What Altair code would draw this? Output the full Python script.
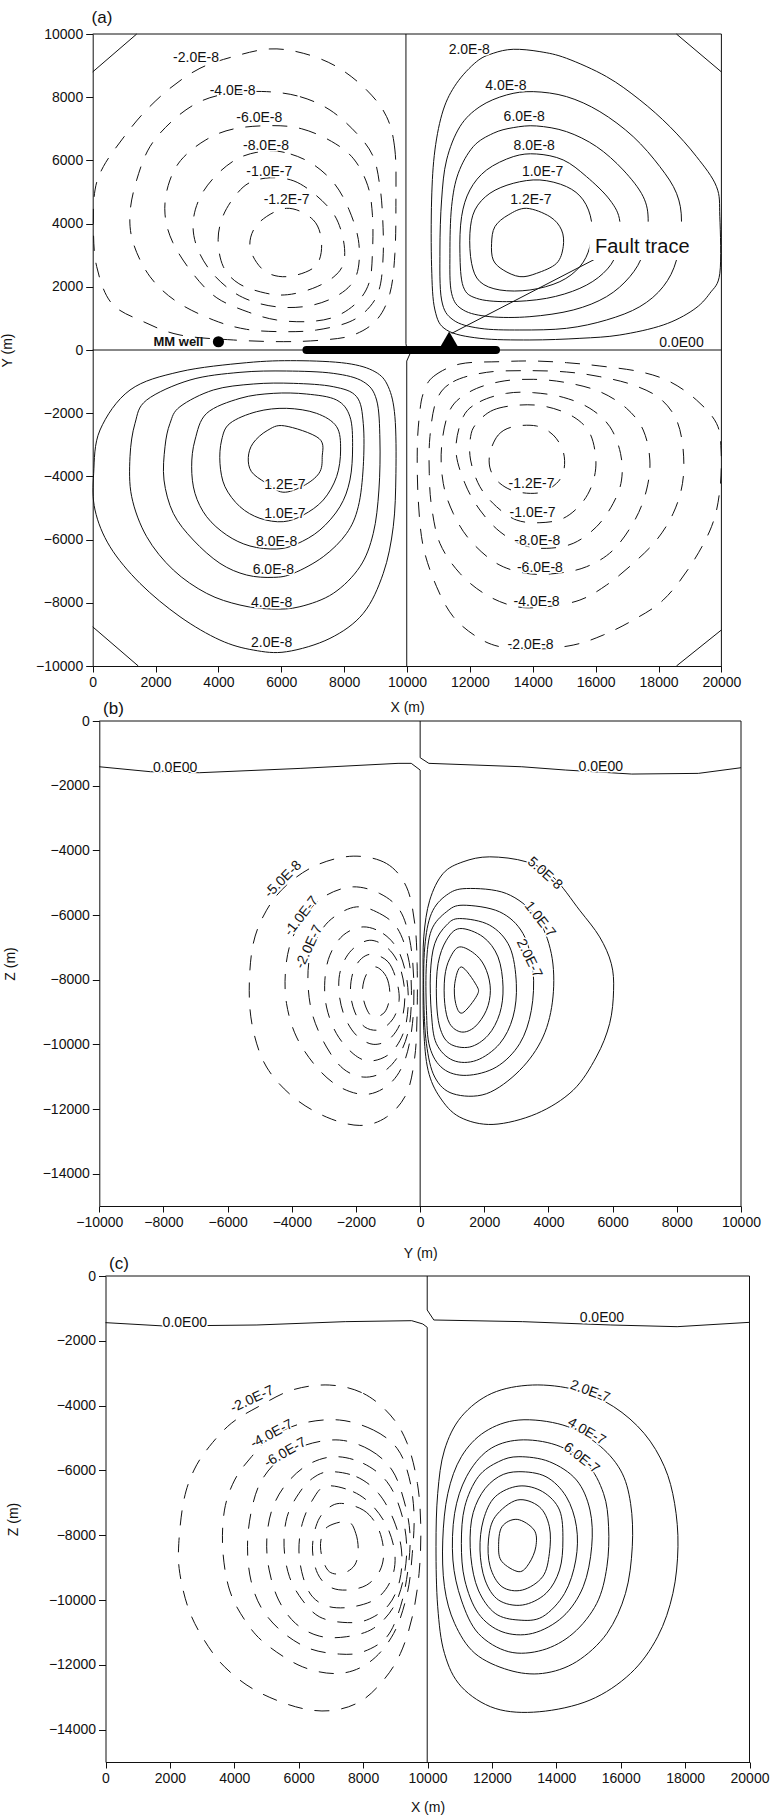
import altair as alt
import pandas as pd

FONT = "Liberation Sans"
INK = "#111111"
DASH = [15, 12]

# ------------------------------------------------------------------
# Panel (a): plan view  X (m) vs Y (m)
# ------------------------------------------------------------------
A_X_TICKS = list(range(0, 20001, 2000))
A_Y_TICKS = list(range(-10000, 10001, 2000))

A_SOLID = {
    "UR 2.0E-8": [(13378, 9516), (14226, 9442), (15074, 9231), (16346, 8651), (17406, 7913), (18360, 7069),
                  (19208, 6119), (19844, 5170), (19950, 4220), (19950, 2427), (19632, 1794), (19102, 1266),
                  (18148, 791), (16770, 475), (15498, 369), (13908, 317), (12318, 369), (11258, 633),
                  (10887, 1266), (10781, 2638), (10781, 4748), (10887, 6330), (11152, 7596), (11576, 8440),
                  (12212, 9126), (12742, 9390)],
    "UR 4.0E-8": [(14014, 8176), (15074, 8018), (16134, 7543), (17194, 6752), (18042, 5803), (18572, 4959),
                  (18731, 4062), (18572, 2849), (18148, 2005), (17406, 1372), (16346, 950), (15074, 686),
                  (13590, 633), (12318, 686), (11470, 950), (11099, 1583), (11046, 3165), (11099, 4748),
                  (11258, 6014), (11682, 7069), (12318, 7702), (13166, 8071)],
    "UR 6.0E-8": [(14120, 7090), (15074, 6910), (16028, 6436), (16876, 5697), (17512, 4853), (17671, 4062),
                  (17512, 3060), (17088, 2321), (16346, 1688), (15286, 1266), (13908, 1055), (12636, 1055),
                  (11788, 1266), (11417, 1794), (11364, 3060), (11417, 4537), (11629, 5592), (12106, 6436),
                  (12742, 6858), (13378, 7037)],
    "UR 8.0E-8": [(14120, 6203), (14968, 6014), (15710, 5486), (16452, 4748), (16770, 4062), (16664, 3060),
                  (16240, 2427), (15498, 1952), (14438, 1635), (13166, 1530), (12212, 1635), (11788, 2005),
                  (11682, 3060), (11735, 4220), (12000, 5064), (12530, 5697), (13378, 6119)],
    "UR 1.0E-7": [(14226, 5381), (15074, 5170), (15604, 4748), (15869, 4062), (15816, 3271), (15498, 2638),
                  (14862, 2163), (13908, 1899), (12954, 1899), (12318, 2163), (12053, 2743), (12000, 3693),
                  (12159, 4431), (12636, 4959), (13378, 5275)],
    "UR 1.2E-7": [(13800, 4484), (14544, 4220), (14915, 3798), (14968, 3270), (14756, 2743), (14120, 2426),
                  (13590, 2321), (13060, 2532), (12742, 2849), (12689, 3376), (12795, 3904), (13219, 4273)],
    "LL 2.0E-8": [(233, -2532), (1187, -1266), (2777, -686), (4897, -401), (6487, -338), (8077, -422),
                  (8978, -686), (9402, -1161), (9614, -2110), (9646, -3904), (9561, -5592), (9243, -7069),
                  (8607, -8335), (7547, -9126), (6169, -9548), (5109, -9495), (4049, -9179), (2777, -8440),
                  (1505, -7385), (551, -6225), (74, -5064), (30, -3904)],
    "LL 4.0E-8": [(1717, -1583), (3095, -950), (4685, -707), (6169, -665), (7653, -739), (8607, -1002),
                  (9031, -1583), (9137, -2849), (9105, -4431), (8925, -5803), (8501, -6858), (7653, -7702),
                  (6593, -8124), (5692, -8197), (4685, -8071), (3625, -7702), (2565, -6963), (1717, -5908),
                  (1240, -4642), (1187, -3376), (1346, -2321)],
    "LL 6.0E-8": [(2777, -1794), (3837, -1266), (5109, -1076), (6381, -1055), (7653, -1161), (8395, -1477),
                  (8607, -2321), (8607, -3693), (8448, -4959), (8077, -5803), (7335, -6541), (6381, -7069),
                  (5745, -7195), (4897, -7121), (4049, -6752), (3201, -6014), (2565, -5170), (2268, -4115),
                  (2300, -3060), (2459, -2321)],
    "LL 8.0E-8": [(3625, -2005), (4685, -1530), (5745, -1372), (6805, -1393), (7759, -1583), (8183, -2110),
                  (8268, -3060), (8183, -4115), (7865, -4959), (7229, -5697), (6487, -6140), (5851, -6298),
                  (5003, -6203), (4261, -5855), (3625, -5275), (3254, -4537), (3148, -3693), (3254, -2849)],
    "LL 1.0E-7": [(4367, -2321), (5215, -1952), (6169, -1846), (7123, -2005), (7759, -2427), (7886, -3165),
                  (7759, -4009), (7335, -4748), (6699, -5222), (6063, -5433), (5321, -5328), (4685, -4959),
                  (4208, -4326), (4049, -3587), (4102, -2849)],
    "LL 1.2E-7": [(6100, -2400), (7200, -2800), (7300, -3400), (7200, -3900), (6700, -4300), (6050, -4500),
                  (5500, -4200), (5050, -3850), (4950, -3400), (5100, -2950), (5550, -2550)],
}

A_DASHED = {
    "UL -2.0E-8": [(9646, 4748), (9614, 6330), (9349, 7385), (8713, 8229), (7759, 8968), (6699, 9390),
                   (5639, 9527), (4473, 9284), (3413, 8915), (2459, 8282), (1611, 7491), (922, 6647),
                   (339, 5803), (74, 5064), (21, 3904), (127, 2638), (604, 1477), (1611, 897), (2777, 475),
                   (4473, 317), (6063, 264), (7335, 317), (8289, 475), (9031, 950), (9455, 1794), (9614, 3060)],
    "UL -4.0E-8": [(5533, 8176), (6593, 8018), (7547, 7596), (8395, 6858), (8925, 6119), (9137, 5170),
                   (9222, 4220), (9243, 3060), (9137, 2005), (8819, 1372), (8183, 897), (7123, 633),
                   (6063, 580), (4897, 654), (3837, 950), (2671, 1530), (1823, 2321), (1293, 3376),
                   (1187, 4326), (1399, 5381), (1823, 6436), (2565, 7280), (3413, 7860), (4367, 8124)],
    "UL -6.0E-8": [(5700, 7100), (6650, 7000), (7600, 6600), (8300, 6050), (8750, 5200), (8900, 4250),
                   (8900, 3100), (8800, 2150), (8400, 1500), (7700, 1050), (6850, 900), (5850, 950),
                   (4950, 1200), (3950, 1650), (3200, 2400), (2550, 3400), (2300, 4300), (2400, 5200),
                   (2800, 6000), (3600, 6650), (4500, 7000)],
    "UL -8.0E-8": [(5550, 6300), (6300, 6200), (7050, 5850), (7700, 5250), (8150, 4450), (8450, 3500),
                   (8450, 2600), (8200, 2050), (7650, 1650), (6900, 1400), (6050, 1350), (5200, 1500),
                   (4450, 1850), (3750, 2500), (3300, 3300), (3200, 4100), (3450, 4900), (4000, 5600),
                   (4700, 6100)],
    "UL -1.0E-7": [(5650, 5450), (6400, 5350), (7100, 4900), (7700, 4250), (7980, 3450), (7980, 2750),
                   (7650, 2300), (7000, 1950), (6200, 1750), (5500, 1800), (4650, 2100), (4150, 2650),
                   (3990, 3500), (4150, 4250), (4550, 4900), (5000, 5300)],
    "UL -1.2E-7": [(6169, 4484), (7017, 4115), (7282, 3376), (7070, 2638), (6169, 2321), (5427, 2532),
                   (5003, 3271), (5268, 4009)],
    "LR -2.0E-8": [(10516, -1372), (10834, -844), (11682, -443), (12954, -369), (14014, -348), (15074, -401),
                   (16134, -506), (17406, -686), (18360, -1002), (19208, -1583), (19844, -2321), (19990, -3165),
                   (19950, -4431), (19685, -5592), (18996, -6858), (18148, -7913), (17194, -8546),
                   (16240, -9020), (15286, -9337), (14014, -9474), (12954, -9390), (12212, -9073),
                   (11470, -8440), (10940, -7491), (10516, -6225), (10357, -4748), (10325, -3165),
                   (10389, -2110)],
    "LR -4.0E-8": [(10940, -1583), (11470, -1002), (12530, -707), (13802, -654), (15074, -696), (16134, -844),
                   (17194, -1108), (18042, -1530), (18572, -2216), (18784, -3165), (18763, -4220),
                   (18466, -5170), (17936, -6014), (17194, -6752), (16346, -7438), (15498, -7913),
                   (14438, -8124), (13484, -8124), (12530, -7754), (11682, -7069), (11046, -6119),
                   (10781, -4959), (10707, -3904), (10728, -2743)],
    "LR -6.0E-8": [(11364, -1899), (12000, -1319), (12954, -1002), (14014, -928), (15074, -1034),
                   (16134, -1319), (16982, -1846), (17512, -2532), (17724, -3482), (17618, -4431),
                   (17247, -5381), (16558, -6330), (15710, -6858), (14756, -7069), (13802, -7069),
                   (12848, -6752), (12000, -6014), (11470, -5170), (11152, -4220), (11099, -3060)],
    "LR -8.0E-8": [(11788, -2110), (12318, -1635), (13166, -1372), (14014, -1350), (14968, -1498),
                   (15816, -1846), (16452, -2427), (16791, -3271), (16823, -4115), (16558, -4853),
                   (16028, -5592), (15286, -6119), (14438, -6277), (13696, -6172), (12954, -5750),
                   (12318, -5064), (11841, -4220), (11555, -3165)],
    "LR -1.0E-7": [(12212, -2321), (12742, -1899), (13590, -1741), (14438, -1794), (15286, -2110),
                   (15816, -2638), (16007, -3482), (15901, -4220), (15551, -4853), (14968, -5328),
                   (14226, -5465), (13484, -5381), (12848, -4959), (12318, -4326), (12021, -3482),
                   (12021, -2743)],
    "LR -1.2E-7": [(12636, -3271), (12901, -2690), (13378, -2427), (14120, -2405), (14650, -2690),
                   (14968, -3218), (14989, -3798), (14756, -4220), (14226, -4515), (13484, -4484),
                   (12954, -4220), (12657, -3798)],
}

A_ZERO_LINES = {
    "Y=0": [(0, 0), (20000, 0)],
    "X=10000 upper": [(9965, 10000), (9965, 200), (10000, 0)],
    "X=10000 lower": [(10120, -60), (9990, -350), (9990, -10000)],
    "corner UL": [(0, 8800), (1400, 10000)],
    "corner UR": [(18570, 10000), (20000, 8800)],
    "corner LL": [(0, -8760), (1450, -10000)],
    "corner LR": [(18570, -10000), (20000, -8860)],
    "fault arrow": [(11420, 527), (16028, 2901)],
}

A_LABELS = [
    ("-2.0E-8", 3286, 9231, 0), ("-4.0E-8", 4452, 8208, 0), ("-6.0E-8", 5300, 7332, 0),
    ("-8.0E-8", 5512, 6467, 0), ("-1.0E-7", 5618, 5623, 0), ("-1.2E-7", 6169, 4748, 0),
    ("2.0E-8", 11979, 9495, 0), ("4.0E-8", 13145, 8356, 0), ("6.0E-8", 13728, 7385, 0),
    ("8.0E-8", 14046, 6467, 0), ("1.0E-7", 14311, 5644, 0), ("1.2E-7", 13940, 4748, 0),
    ("0.0E00", 18731, 230, 0),
    ("1.2E-7", 6116, -4273, 0), ("1.0E-7", 6116, -5191, 0), ("8.0E-8", 5851, -6066, 0),
    ("6.0E-8", 5745, -6963, 0), ("4.0E-8", 5692, -8018, 0), ("2.0E-8", 5692, -9284, 0),
    ("-1.2E-7", 13961, -4241, 0), ("-1.0E-7", 13993, -5170, 0), ("-8.0E-8", 14141, -6045, 0),
    ("-6.0E-8", 14226, -6910, 0), ("-4.0E-8", 14120, -7965, 0), ("-2.0E-8", 13929, -9337, 0),
]
A_PANEL_TAG = ("(a)", 296, 10522)
A_FAULT_TRACE = [(6800, 12830)]          # X extent of the fault trace along Y = 0
A_FAULT_MARK = [(11340, 340)]            # triangle marker on the trace
A_FAULT_TEXT = ("Fault trace", 15980, 3260)
A_FAULT_MASK = [(15800, 19300, 2850, 4060)]
A_WELL = [(4000, 260)]
A_WELL_TEXT = ("MM well", 3520, 260)

# ------------------------------------------------------------------
# Panel (b): section  Y (m) vs Z (m)
# ------------------------------------------------------------------
B_X_TICKS = list(range(-10000, 10001, 2000))
B_Y_TICKS = list(range(-14000, 1, 2000))

B_SOLID = {
    "6E-7": [(1286, -7606), (1753, -8174), (1773, -8483), (1317, -9030), (1109, -8741), (1078, -8122)],
    "5E-7": [(1234, -6987), (1753, -7245), (2064, -7709), (2189, -8329), (2064, -8948), (1701, -9464),
             (1286, -9619), (922, -9361), (767, -8741), (767, -7916), (922, -7348)],
    "4E-7": [(1234, -6419), (1960, -6677), (2427, -7297), (2583, -8225), (2479, -9051), (2116, -9722),
             (1545, -10083), (922, -9980), (611, -9464), (507, -8535), (559, -7503), (818, -6781)],
    "3E-7": [(1234, -6110), (2168, -6316), (2791, -6987), (2998, -8122), (2894, -9154), (2479, -9980),
             (1753, -10496), (1026, -10496), (507, -9980), (351, -9051), (320, -7812), (455, -6884),
             (818, -6316)],
    "2E-7": [(1337, -5697), (2479, -5903), (3206, -6574), (3517, -7709), (3465, -8948), (3102, -9980),
             (2375, -10702), (1441, -10960), (715, -10754), (299, -10083), (196, -8948), (196, -7503),
             (351, -6471), (818, -5903)],
    "1E-7": [(1441, -5181), (2687, -5336), (3621, -6058), (4088, -7193), (4140, -8535), (3829, -9773),
             (3102, -10805), (2064, -11528), (1026, -11528), (455, -11012), (196, -9980), (113, -8535),
             (144, -6987), (351, -5955), (818, -5387)],
    "5E-8": [(2168, -4201), (3310, -4355), (4140, -4820), (4970, -5852), (5593, -6677), (5957, -7503),
             (6029, -8329), (5905, -9361), (5489, -10393), (4763, -11425), (3621, -12147), (2272, -12477),
             (1234, -12250), (611, -11631), (248, -10805), (113, -9567), (92, -8019), (113, -6677),
             (299, -5542), (715, -4717), (1337, -4355)],
}

B_DASHED = {
    "-5E-8": [(-2088, -4180), (-1050, -4407), (-427, -5129), (-168, -6265), (-95, -7503), (-95, -9051),
              (-168, -10393), (-427, -11528), (-1050, -12250), (-1880, -12508), (-2918, -12250),
              (-3956, -11631), (-4787, -10702), (-5202, -9567), (-5327, -8329), (-5202, -6884),
              (-4787, -5852), (-4164, -5078), (-3230, -4459)],
    "-1E-7": [(-2088, -5129), (-1258, -5336), (-635, -5852), (-323, -6781), (-199, -8019), (-240, -9361),
              (-479, -10496), (-946, -11218), (-1673, -11548), (-2503, -11321), (-3230, -10702),
              (-3853, -9773), (-4164, -8741), (-4195, -7709), (-4008, -6781), (-3541, -5955), (-2918, -5387)],
    "-2E-7": [(-1984, -5749), (-1361, -5903), (-739, -6368), (-375, -7297), (-272, -8329), (-344, -9464),
              (-635, -10289), (-1154, -10857), (-1777, -11012), (-2399, -10754), (-2918, -10083),
              (-3334, -9154), (-3489, -8225), (-3437, -7297), (-3074, -6471), (-2607, -6007)],
    "-3E-7": [(-1777, -6368), (-1154, -6574), (-687, -7090), (-427, -7916), (-375, -8845), (-531, -9670),
              (-946, -10289), (-1569, -10516), (-2088, -10289), (-2607, -9670), (-2918, -8845),
              (-2970, -8019), (-2815, -7245), (-2399, -6626)],
    "-4E-7": [(-1569, -6781), (-998, -7039), (-635, -7606), (-479, -8432), (-583, -9257), (-946, -9825),
              (-1465, -10000), (-1984, -9722), (-2348, -9154), (-2524, -8432), (-2482, -7709), (-2140, -7090)],
    "-5E-7": [(-1465, -7214), (-998, -7451), (-739, -8019), (-656, -8638), (-842, -9206), (-1258, -9546),
              (-1725, -9464), (-2036, -9000), (-2171, -8380), (-2088, -7761), (-1829, -7348)],
    "-6E-7": [(-1382, -7606), (-1050, -7916), (-946, -8483), (-1102, -9000), (-1465, -9154), (-1694, -8845),
              (-1797, -8329), (-1673, -7833)],
}

B_ZERO_LINES = {
    "left": [(-10000, -1415), (-8400, -1569), (-6885, -1600), (-3716, -1465), (-689, -1310), (-277, -1310),
             (0, -1517), (0, -15000)],
    "right": [(0, 0), (0, -1135), (271, -1310), (3168, -1415), (4539, -1517), (6595, -1641), (8670, -1620),
              (10000, -1445)],
}

B_LABELS = [
    ("0.0E00", -7637, -1440, 0), ("0.0E00", 5630, -1420, 0),
    ("-5.0E-8", -4268, -4901, 315), ("-1.0E-7", -3695, -6037, 308), ("-2.0E-7", -3458, -6987, 295),
    ("5.0E-8", 3885, -4716, 42), ("1.0E-7", 3729, -6139, 52), ("2.0E-7", 3396, -7347, 64),
]
B_PANEL_TAG = ("(b)", -9558, 372)

# ------------------------------------------------------------------
# Panel (c): section  X (m) vs Z (m)
# ------------------------------------------------------------------
C_X_TICKS = list(range(0, 20001, 2000))
C_Y_TICKS = list(range(-14000, 1, 2000))

C_SOLID = {
    "2E-7": [(13259, -3365), (14626, -3519), (15782, -4034), (16728, -4857), (17358, -5886), (17674, -7018),
             (17779, -8355), (17621, -9796), (17148, -11134), (16307, -12266), (15046, -13089),
             (13470, -13449), (12103, -13346), (11052, -12677), (10527, -11648), (10317, -10208),
             (10264, -8355), (10317, -6709), (10527, -5371), (11052, -4342), (11998, -3622)],
    "4E-7": [(12839, -4445), (14205, -4600), (15256, -5166), (15992, -5989), (16307, -7018), (16360, -8355),
             (16149, -9796), (15572, -11031), (14626, -11905), (13575, -12266), (12524, -12163),
             (11473, -11648), (10842, -10722), (10527, -9590), (10474, -8150), (10632, -6709),
             (11052, -5577), (11788, -4805)],
    "6E-7": [(12839, -5063), (13995, -5217), (14941, -5783), (15466, -6709), (15624, -7738), (15572, -8973),
             (15256, -10105), (14521, -11031), (13575, -11545), (12524, -11597), (11578, -11031),
             (11052, -10002), (10789, -8767), (10842, -7326), (11210, -6195), (11893, -5371)],
    "8E-7": [(12839, -5577), (13785, -5731), (14626, -6297), (15046, -7224), (15099, -8355), (14836, -9590),
             (14205, -10516), (13259, -11031), (12313, -10979), (11578, -10413), (11157, -9385),
             (11052, -8253), (11157, -7121), (11578, -6195), (12208, -5731)],
    "1E-6": [(12839, -6040), (13680, -6195), (14310, -6812), (14626, -7738), (14605, -8767), (14258, -9796),
             (13575, -10516), (12839, -10619), (12103, -10413), (11578, -9693), (11346, -8664),
             (11367, -7532), (11683, -6709), (12208, -6195)],
    "1.2E-6": [(12839, -6483), (13575, -6657), (14100, -7224), (14205, -8150), (14100, -9076), (13680, -9796),
               (12944, -10156), (12208, -10002), (11788, -9385), (11630, -8458), (11735, -7532),
               (12103, -6812)],
    "1.4E-6": [(12786, -6915), (13470, -7121), (13785, -7738), (13785, -8561), (13575, -9282), (12944, -9693),
               (12313, -9590), (11946, -8973), (11893, -8150), (12103, -7429)],
    "1.6E-6": [(12786, -7512), (13312, -7841), (13365, -8355), (13154, -8870), (12839, -9127), (12313, -8818),
               (12208, -8355), (12313, -7738)],
}

C_DASHED = {
    "-2E-7": [(6953, -3365), (8004, -3622), (8845, -4291), (9371, -5166), (9686, -6400), (9791, -7738),
              (9738, -9179), (9528, -10516), (9160, -11648), (8635, -12471), (7899, -13140), (6953, -13418),
              (5902, -13295), (4641, -12780), (3695, -12060), (3065, -11237), (2592, -10311), (2308, -9179),
              (2276, -8253), (2434, -6915), (2749, -5989), (3222, -5268), (3905, -4548), (4746, -4034),
              (5797, -3519)],
    "-4E-7": [(7269, -4445), (8320, -4754), (9055, -5320), (9423, -6195), (9581, -7326), (9528, -8561),
              (9371, -9796), (8950, -11031), (8215, -11905), (7269, -12266), (6113, -12060), (4956, -11340),
              (4326, -10619), (3853, -9693), (3643, -8458), (3695, -7224), (4011, -6297), (4536, -5577),
              (5167, -4960), (6113, -4548)],
    "-6E-7": [(7269, -5063), (8215, -5371), (8898, -5989), (9266, -6915), (9455, -7944), (9392, -9076),
              (9160, -10208), (8740, -11134), (8004, -11597), (7269, -11669), (6323, -11494), (5482, -10979),
              (4851, -10259), (4515, -9385), (4410, -8355), (4515, -7326), (4799, -6400), (5377, -5680),
              (6218, -5217)],
    "-8E-7": [(7111, -5577), (8004, -5783), (8740, -6349), (9160, -7224), (9350, -8253), (9266, -9282),
              (8950, -10208), (8320, -10876), (7479, -11134), (6638, -11113), (5902, -10722), (5377, -10002),
              (5083, -9076), (5009, -8150), (5167, -7224), (5587, -6452), (6270, -5834)],
    "-1E-6": [(6953, -6040), (7794, -6195), (8477, -6709), (8950, -7532), (9192, -8458), (9139, -9385),
              (8792, -10156), (8110, -10619), (7374, -10691), (6638, -10516), (6113, -10002), (5713, -9282),
              (5545, -8355), (5640, -7429), (6007, -6709), (6428, -6246)],
    "-1.2E-6": [(6848, -6483), (7689, -6657), (8320, -7121), (8792, -7841), (8992, -8664), (8866, -9385),
                (8425, -9950), (7689, -10208), (6953, -10208), (6428, -9899), (6134, -9282), (6007, -8458),
                (6113, -7635), (6428, -6915)],
    "-1.4E-6": [(7269, -7018), (8004, -7224), (8446, -7738), (8635, -8458), (8530, -9076), (8110, -9539),
                (7479, -9693), (6953, -9590), (6585, -9179), (6428, -8458), (6533, -7738), (6796, -7275)],
    "-1.6E-6": [(7531, -7584), (7773, -7944), (7847, -8458), (7741, -8921), (7374, -9179), (6953, -9127),
                (6722, -8664), (6691, -8150), (6901, -7738)],
}

C_ZERO_LINES = {
    "left": [(0, -1440), (1818, -1543), (4703, -1512), (7445, -1409), (9509, -1379), (9854, -1481),
             (9991, -1584), (9991, -15000)],
    "right": [(9991, 0), (9991, -1049), (10196, -1358), (12944, -1409), (15692, -1512), (17753, -1564),
              (20000, -1430)],
}

C_LABELS = [
    ("0.0E00", 2462, -1440, 0), ("0.0E00", 15415, -1290, 0),
    ("-2.0E-7", 4557, -3806, 335), ("-4.0E-7", 5166, -4877, 332), ("-6.0E-7", 5586, -5453, 330),
    ("2.0E-7", 15045, -3570, 20), ("4.0E-7", 14939, -4805, 30), ("6.0E-7", 14781, -5627, 38),
]
C_PANEL_TAG = ("(c)", 420, 370)

# ------------------------------------------------------------------
# Page geometry (pixel ranges of each panel's plot area on the page)
# ------------------------------------------------------------------
PAGE_W, PAGE_H = 773, 1818


def curves_df(groups):
    rows = []
    for name, pts in groups.items():
        for i, (x, y) in enumerate(pts):
            rows.append({"cid": name, "i": i, "x": x, "y": y})
    return pd.DataFrame(rows)


def labels_df(labels):
    return pd.DataFrame([{"t": t, "x": x, "y": y, "a": a} for t, x, y, a in labels])


def axis(values, orient, offset, title, tick, pad, tpad):
    return alt.Axis(values=values, orient=orient, offset=offset, title=title, format="d", grid=False,
                    tickSize=tick, labelPadding=pad, titlePadding=tpad, labelFont=FONT, labelFontSize=14,
                    titleFont=FONT, titleFontSize=14, titleFontWeight="normal", domainColor=INK,
                    tickColor=INK, labelColor=INK, titleColor=INK, labelFlush=False, labelOverlap=False,
                    domainWidth=1, tickWidth=1)


def panel(solid, dashed, zero, labels, tag, xdom, ydom, xrange, yrange, xticks, yticks,
          xtitle, ytitle, xoff, yoff, xtpad, ytpad, extras=None):
    X = alt.X("x:Q", scale=alt.Scale(domain=xdom, range=xrange, nice=False, zero=False),
              axis=axis(xticks, "bottom", xoff, xtitle, 6, 3, xtpad))
    Y = alt.Y("y:Q", scale=alt.Scale(domain=ydom, range=yrange, nice=False, zero=False),
              axis=axis(yticks, "left", yoff, ytitle, 7, 3, ytpad))
    layers = []
    layers.append(alt.Chart(curves_df(solid)).mark_line(
        interpolate="cardinal-closed", color=INK, strokeWidth=1).encode(
        x=X, y=Y, detail="cid:N", order="i:Q"))
    layers.append(alt.Chart(curves_df(dashed)).mark_line(
        interpolate="cardinal-closed", color=INK, strokeWidth=1, strokeDash=DASH).encode(
        x=X, y=Y, detail="cid:N", order="i:Q"))
    layers.append(alt.Chart(curves_df(zero)).mark_line(
        interpolate="linear", color=INK, strokeWidth=1).encode(
        x=X, y=Y, detail="cid:N", order="i:Q"))
    frame = pd.DataFrame([
        {"x": xdom[0], "x2": xdom[1], "y": ydom[1], "y2": ydom[1]},
        {"x": xdom[1], "x2": xdom[1], "y": ydom[0], "y2": ydom[1]},
    ])
    layers.append(alt.Chart(frame).mark_rule(color=INK, strokeWidth=1).encode(
        x=X, y=Y, x2="x2:Q", y2="y2:Q"))
    if extras:
        layers.extend(extras(X, Y))
    ldf = labels_df(labels)
    layers.append(alt.Chart(ldf).mark_text(
        font=FONT, fontSize=14, color="white", stroke="white", strokeWidth=3,
        align="center", baseline="middle").encode(
        x=X, y=Y, text="t:N", angle=alt.Angle("a:Q", scale=None)))
    layers.append(alt.Chart(ldf).mark_text(
        font=FONT, fontSize=14, color=INK, align="center", baseline="middle").encode(
        x=X, y=Y, text="t:N", angle=alt.Angle("a:Q", scale=None)))
    tdf = pd.DataFrame([{"t": tag[0], "x": tag[1], "y": tag[2]}])
    layers.append(alt.Chart(tdf).mark_text(
        font=FONT, fontSize=17, color=INK, align="center", baseline="middle").encode(
        x=X, y=Y, text="t:N"))
    return alt.layer(*layers)


def a_extras(X, Y):
    out = []
    bar = pd.DataFrame([{"x": a, "x2": b, "y": 0} for a, b in A_FAULT_TRACE])
    out.append(alt.Chart(bar).mark_rule(color="black", strokeWidth=8, strokeCap="round").encode(
        x=X, y=Y, x2="x2:Q"))
    tri = pd.DataFrame([{"x": x, "y": y} for x, y in A_FAULT_MARK])
    out.append(alt.Chart(tri).mark_point(shape="triangle-up", size=320, filled=True, color="black",
                                         opacity=1).encode(x=X, y=Y))
    well = pd.DataFrame([{"x": x, "y": y} for x, y in A_WELL])
    out.append(alt.Chart(well).mark_circle(size=125, color="black", opacity=1).encode(x=X, y=Y))
    wt = pd.DataFrame([{"t": A_WELL_TEXT[0], "x": A_WELL_TEXT[1], "y": A_WELL_TEXT[2]}])
    out.append(alt.Chart(wt).mark_text(font=FONT, fontSize=13, fontWeight="bold", color=INK,
                                       align="right", baseline="middle").encode(x=X, y=Y, text="t:N"))
    mask = pd.DataFrame([{"x": a, "x2": b, "y": c, "y2": d} for a, b, c, d in A_FAULT_MASK])
    out.append(alt.Chart(mask).mark_rect(color="white", opacity=1).encode(
        x=X, y=Y, x2="x2:Q", y2="y2:Q"))
    ft = pd.DataFrame([{"t": A_FAULT_TEXT[0], "x": A_FAULT_TEXT[1], "y": A_FAULT_TEXT[2]}])
    out.append(alt.Chart(ft).mark_text(font=FONT, fontSize=20, color=INK, align="left",
                                       baseline="middle").encode(x=X, y=Y, text="t:N"))
    return out


pa = panel(A_SOLID, A_DASHED, A_ZERO_LINES, A_LABELS, A_PANEL_TAG,
           [0, 20000], [-10000, 10000], [92.7, 721.4], [666, 34], A_X_TICKS, A_Y_TICKS,
           "X (m)", "Y (m)", 666 - PAGE_H, -92.7, 11, 21, extras=a_extras)
pb = panel(B_SOLID, B_DASHED, B_ZERO_LINES, B_LABELS, B_PANEL_TAG,
           [-10000, 10000], [-15000, 0], [99.3, 741], [1206, 721], B_X_TICKS, B_Y_TICKS,
           "Y (m)", "Z (m)", 1206 - PAGE_H, -99.3, 17, 25)
pc = panel(C_SOLID, C_DASHED, C_ZERO_LINES, C_LABELS, C_PANEL_TAG,
           [0, 20000], [-15000, 0], [105.5, 749.5], [1762, 1276], C_X_TICKS, C_Y_TICKS,
           "X (m)", "Z (m)", 1762 - PAGE_H, -105.5, 15, 28)

chart = alt.layer(pa, pb, pc).resolve_scale(x="independent", y="independent").properties(
    width=PAGE_W, height=PAGE_H, padding=0, background="white",
    autosize=alt.AutoSizeParams(type="none"),
).configure_view(stroke=None)

chart.save("out.html", embed_options={"renderer": "svg", "actions": False})
